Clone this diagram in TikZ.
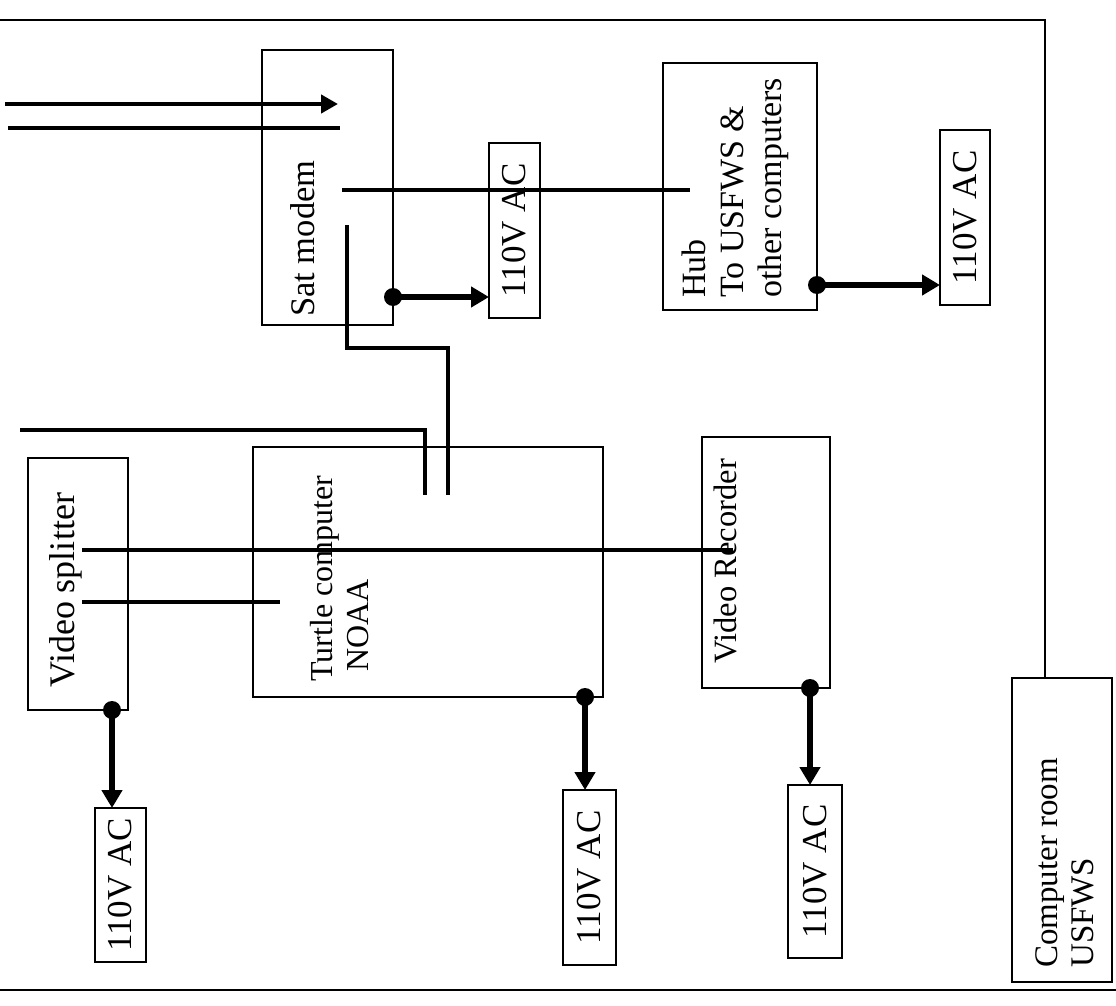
\documentclass[tikz,border=0pt]{standalone}
\usepackage{fontspec}
\setmainfont{Liberation Serif}
\usetikzlibrary{arrows.meta}
\newcommand\mybox[5]{\node[box, minimum width={#4-#2}, minimum height={#5-#3}] (#1) at ({(#2+#4)/2},{(#3+#5)/2}) {};}
\newcommand\fs[1]{\fontsize{#1}{38}\selectfont}
\begin{document}
\begin{tikzpicture}[x=1pt,y=-1pt,
  box/.style={draw, line width=2.8pt, inner sep=0pt, outer sep=0pt},
  lbl/.style={rotate=90, inner sep=0pt, anchor=base west, font=\fs{33}},
  aclbl/.style={rotate=90, inner sep=0pt, font=\fs{35}},
  wire/.style={line width=4.4pt},
  pw/.style={line width=6pt, -{Triangle[length=18pt,width=20pt]}},
  jdot/.style={circle, fill=black, inner sep=0pt, minimum size=18pt},
  frame/.style={line width=2.8pt}]
\useasboundingbox (0,0) rectangle (1116,1006);
% boxes
\mybox{sat}{262}{50}{393}{325}
\mybox{acA}{489}{143}{540}{318}
\mybox{hub}{663}{63}{817}{310}
\mybox{acB}{940}{130}{990}{305}
\mybox{turtle}{253}{447}{603}{697}
\mybox{vsplit}{28}{458}{128}{710}
\mybox{vrec}{702}{437}{830}{688}
\mybox{acC}{95}{808}{146}{962}
\mybox{acD}{563}{790}{616}{965}
\mybox{acE}{788}{785}{842}{958}
\mybox{room}{1012}{678}{1112}{982}
% room frame
\coordinate (f1) at (0,20);
\coordinate (f2) at (1045,20);
\draw[frame] (f1) -- (f2) -- (f2 |- room.north);
\coordinate (b1) at (0,990);
\coordinate (b2) at (1116,990);
\draw[frame] (b1) -- (b2);
% labels
\node[aclbl] (tA) at (acA) {110V AC};
\node[aclbl] (tB) at (acB) {110V AC};
\node[aclbl] (tC) at (acC) {110V AC};
\node[aclbl] (tD) at (acD) {110V AC};
\node[aclbl] (tE) at (acE) {110V AC};
\node[lbl, font=\fs{34.5}] (tSat) at (314,317) {Sat modem};
\node[lbl, font=\fs{34}] (tHub1) at (705,298) {Hub};
\node[lbl, font=\fs{34}] (tHub2) at (743,298) {To USFWS \&};
\node[lbl, font=\fs{34}] (tHub3) at (781,298) {other computers};
\node[lbl, font=\fs{32}] (tT1) at (332,682) {Turtle computer};
\node[lbl, font=\fs{32}] (tT2) at (368,672) {NOAA};
\node[lbl, font=\fs{36}] (tVS) at (74,688) {Video splitter};
\node[lbl, font=\fs{32.5}] (tVR) at (736,664) {Video Recorder};
\node[lbl] (tR1) at (1057,968) {Computer room};
\node[lbl] (tR2) at (1093,968) {USFWS};
% signal wires
\coordinate (i1a) at (5,104);
\coordinate (i1b) at (338,104);
\draw[wire,-{Triangle[length=17pt,width=18pt]}] (i1a) -- (i1b);
\coordinate (i2a) at (8,128);
\coordinate (i2b) at (340,128);
\draw[wire] (i2a) -- (i2b);
\coordinate (sh1) at (342,190);
\coordinate (sh2) at (690,190);
\draw[wire] (sh1) -- (sh2);
\coordinate (st1) at (347,225);
\coordinate (st2) at (448,495);
\draw[wire] (st1) -- (347,348) -| (st2);
\coordinate (lt1) at (20,430);
\coordinate (lt2) at (425,495);
\draw[wire] (lt1) -| (lt2);
\coordinate (v1) at (82,550);
\coordinate (v2) at (733,550);
\draw[wire] (v1) -- (v2);
\coordinate (v3) at (82,602);
\coordinate (v4) at (280,602);
\draw[wire] (v3) -- (v4);
% power connections
\node[jdot] (dS) at (393,297) {};
\draw[pw] (dS.center) -- (dS.center -| acA.west);
\node[jdot] (dH) at (817,285) {};
\draw[pw] (dH.center) -- (dH.center -| acB.west);
\node[jdot] (dV) at (112,710) {};
\draw[pw] (dV.center) -- (dV.center |- acC.north);
\node[jdot] (dT) at (585,697) {};
\draw[pw] (dT.center) -- (dT.center |- acD.north);
\node[jdot] (dR) at (810,688) {};
\draw[pw] (dR.center) -- (dR.center |- acE.north);
\end{tikzpicture}
\end{document}
